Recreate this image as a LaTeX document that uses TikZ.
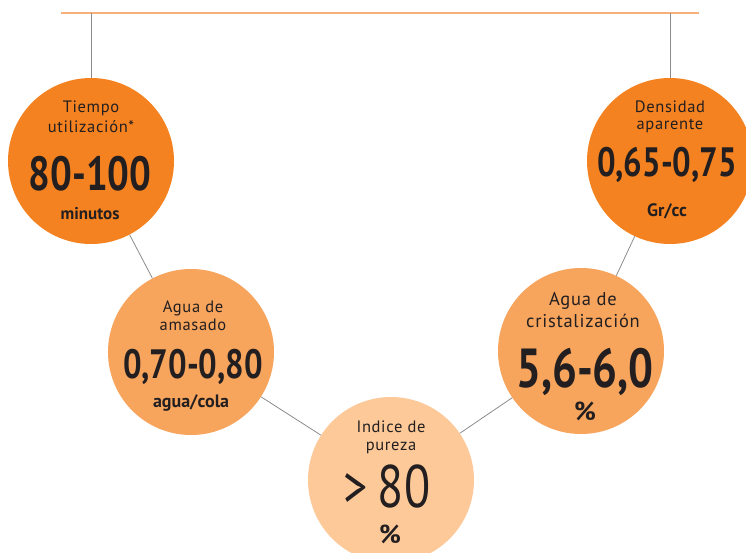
\documentclass[tikz,border=0pt]{standalone}
\usepackage{fontspec}
\setmainfont{PT Sans}
\newfontfamily\etiqfont[LetterSpace=4]{PT Sans}
\newfontfamily\numfont[FakeStretch=0.8]{PT Sans}
\usetikzlibrary{calc}
\definecolor{naranja}{HTML}{F58220}
\definecolor{naranjamed}{HTML}{F7A45D}
\definecolor{naranjaclaro}{HTML}{FDC999}
\definecolor{linea}{HTML}{F8B07A}
\definecolor{tinta}{HTML}{231F20}
\definecolor{gris}{HTML}{8C8C8C}
\tikzset{
  bola/.style={circle, minimum size=166pt, inner sep=0pt},
  etiq/.style={anchor=base, text=tinta, inner sep=0pt, font=\etiqfont\fontsize{16.5}{16.5}\selectfont},
  cifra/.style={anchor=base, text=tinta, inner sep=0pt, text depth=0pt, font=\numfont\bfseries\fontsize{#1}{#1}\selectfont},
  unidad/.style={anchor=base, text=tinta, inner sep=0pt, font=\bfseries\fontsize{#1}{#1}\selectfont},
  enlace/.style={draw=gris, line width=0.8pt}
}

\begin{document}
\begin{tikzpicture}[x=1pt,y=-1pt]
\useasboundingbox (0,0) rectangle (746,553);
\clip (0,0) rectangle (746,553);
% barra superior
\coordinate (izq) at (61,13);
\coordinate (der) at (699,13);
\coordinate (ganchoA) at (91,13);
\coordinate (ganchoB) at (670,13);
\draw[linea, line width=1.5pt] (izq) -- (der);
% bolas
\node[bola, fill=naranja] (tiempo) at (91,161) {};
\node[bola, fill=naranjamed] (amasado) at (191,352) {};
\node[bola, fill=naranjaclaro] (pureza) at (391,480) {};
\node[bola, fill=naranjamed] (cristal) at (581,351) {};
\node[bola, fill=naranja] (densidad) at (670,161) {};
% enlaces
\draw[enlace] (ganchoA) -- (tiempo);
\draw[enlace] (ganchoB) -- (densidad);
\draw[enlace] (tiempo) -- (amasado);
\draw[enlace] (amasado) -- (pureza);
\draw[enlace] (pureza) -- (cristal);
\draw[enlace] (cristal) -- (densidad);
% textos
\node[etiq] (t1) at (91,113) {Tiempo};
\node[etiq] (t2) at (91,133) {utilización*};
\node[cifra=48] (t3) at (90,191) {80-100};
\node[unidad=17] (t4) at (90,219) {minutos};

\node[etiq] (a1) at (193,312) {Agua de};
\node[etiq] (a2) at (193,330) {amasado};
\node[cifra=41] (a3) at (193,378) {0,70-0,80};
\node[unidad=18] (a4) at (191,407) {agua/cola};

\node[etiq] (p1) at (391,432) {Indice de};
\node[etiq] (p2) at (391,450) {pureza};
\node[cifra=60, font=\numfont\fontsize{60}{60}\selectfont] (p3) at (387,507) {>\,80};
\node[unidad=26] (p4) at (390,543) {\%};

\node[etiq, font=\etiqfont\fontsize{18.5}{18.5}\selectfont] (c1) at (583,305) {Agua de};
\node[etiq, font=\etiqfont\fontsize{18.5}{18.5}\selectfont] (c2) at (583,327) {cristalización};
\node[cifra=55] (c3) at (585,387) {5,6-6,0};
\node[unidad=26] (c4) at (585,420) {\%};

\node[etiq] (d1) at (670,113) {Densidad};
\node[etiq] (d2) at (670,130) {aparente};
\node[cifra=41] (d3) at (667,177) {0,65-0,75};
\node[unidad=18] (d4) at (667,217) {Gr/cc};
\end{tikzpicture}
\end{document}
